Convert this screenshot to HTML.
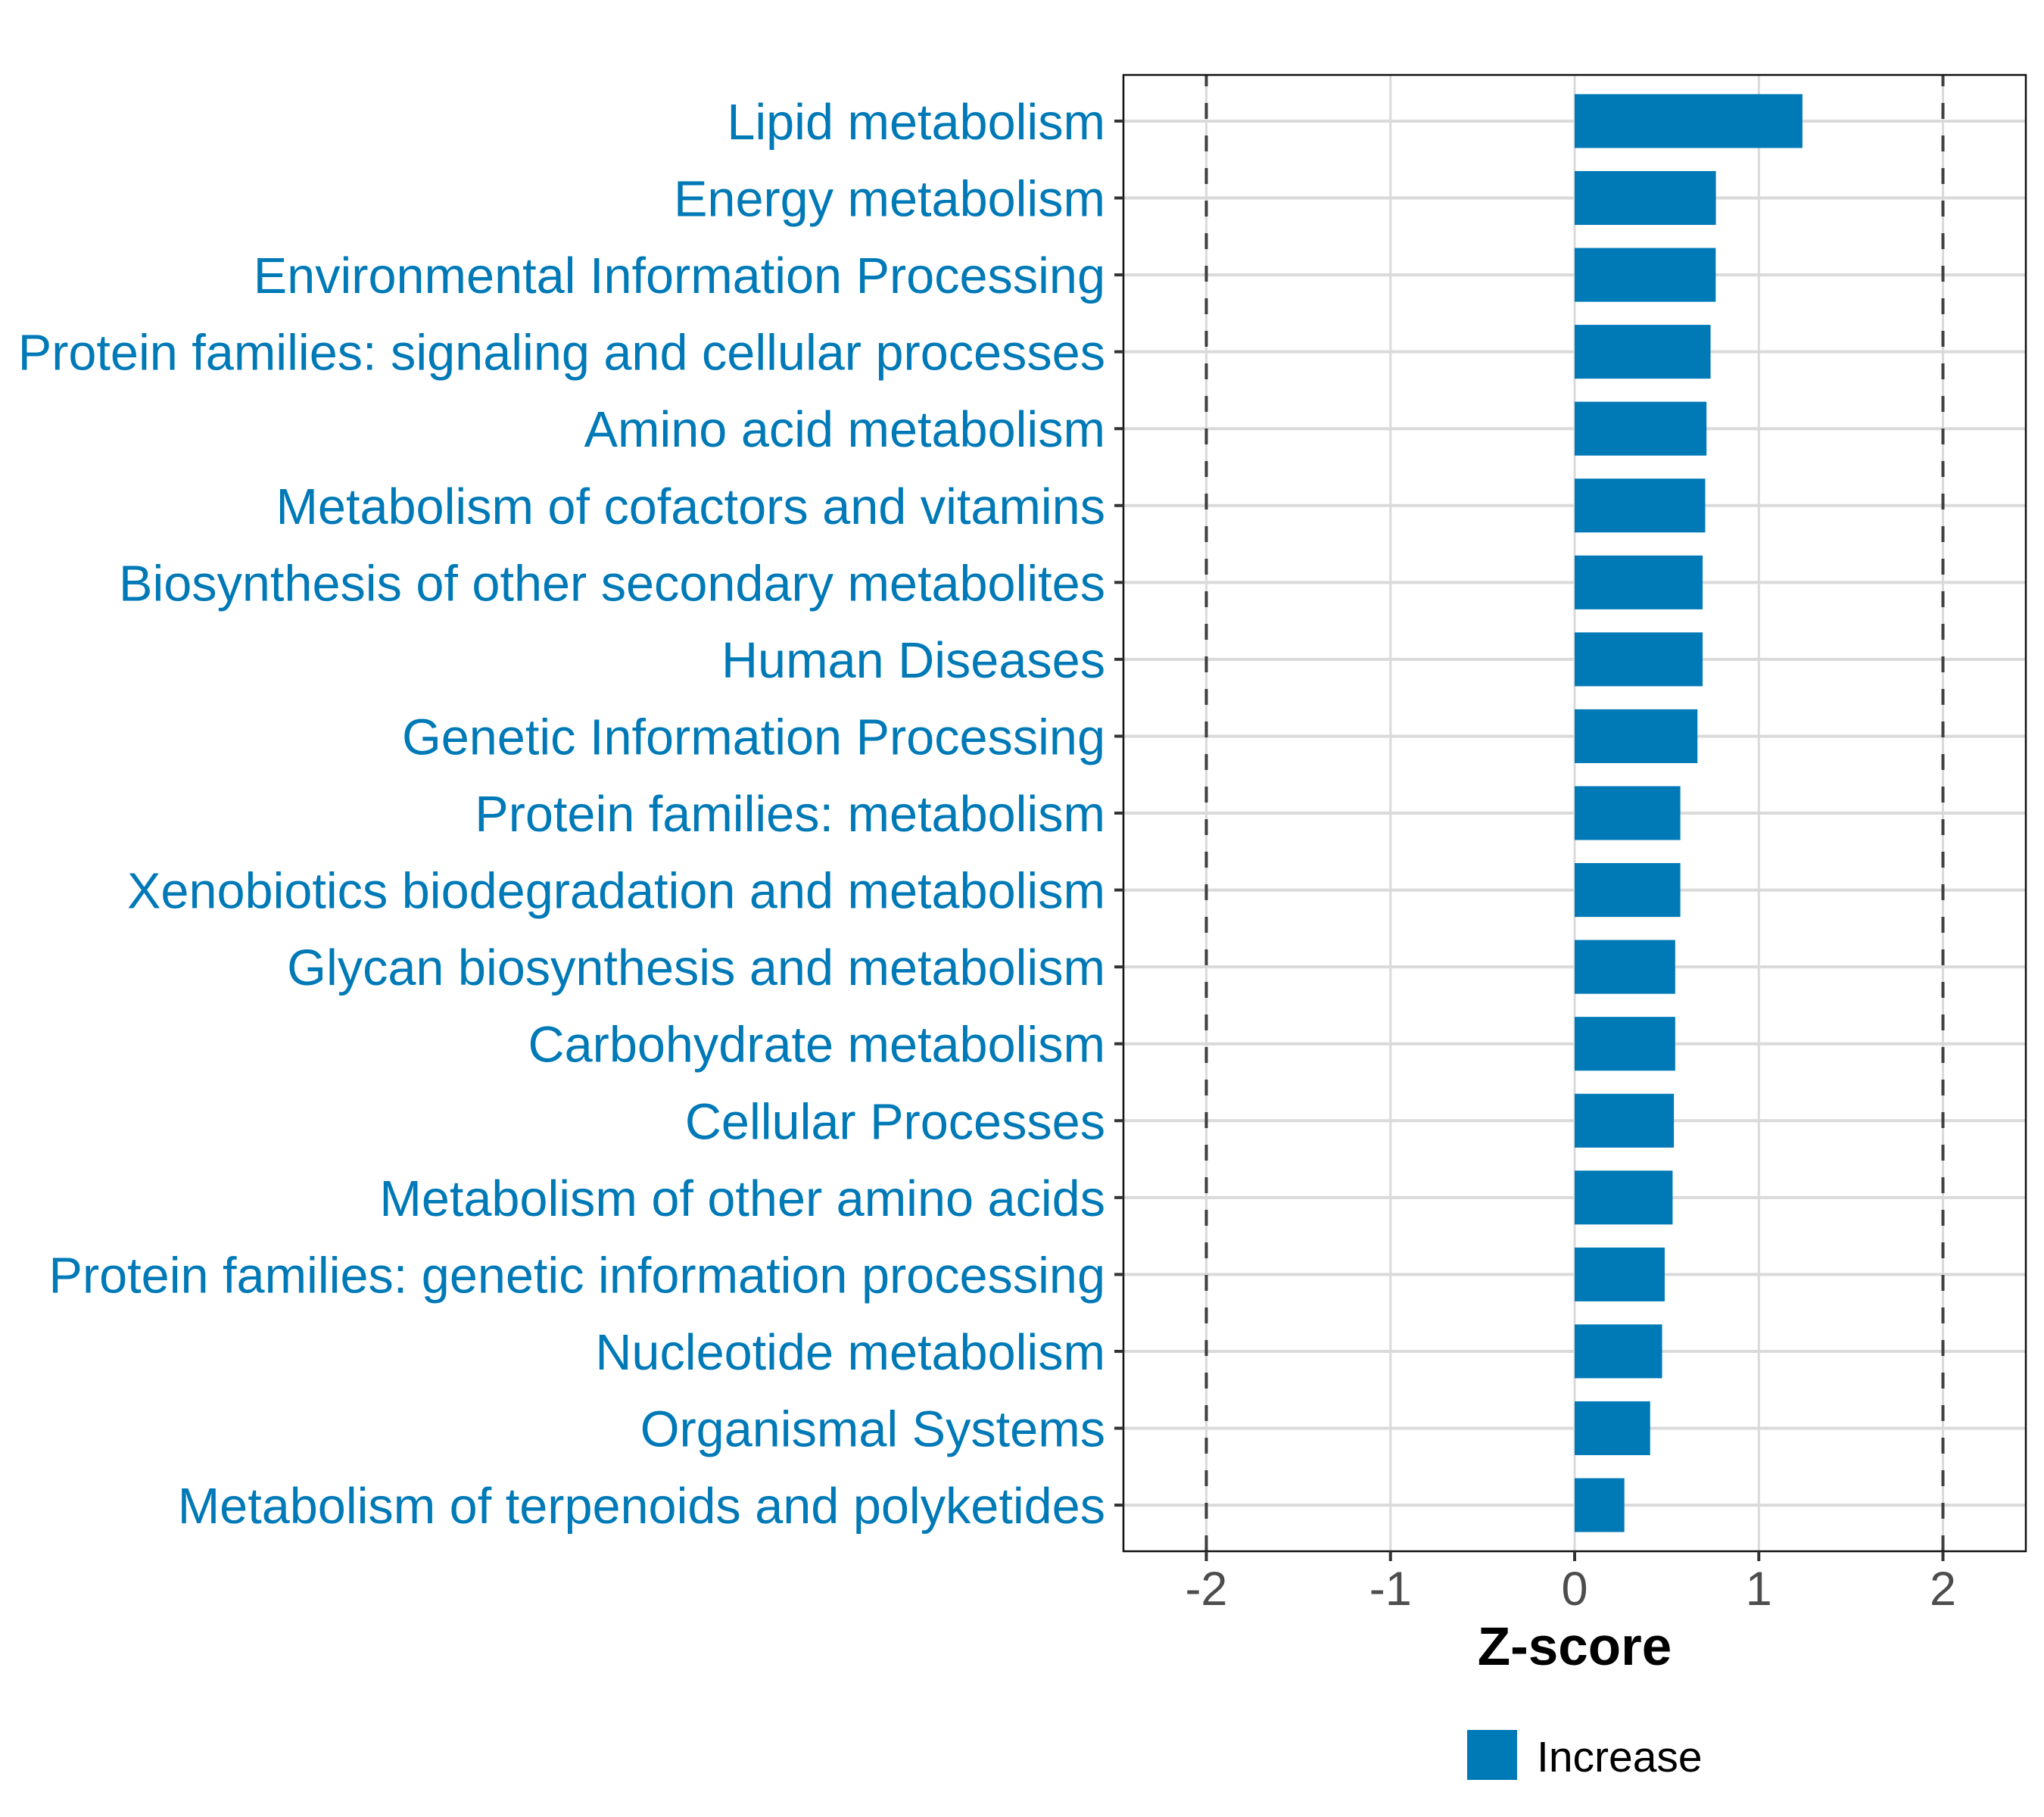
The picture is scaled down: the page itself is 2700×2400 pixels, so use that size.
<!DOCTYPE html>
<html><head><meta charset="utf-8"><style>
html,body{margin:0;padding:0;background:#fff;}
svg{display:block;font-family:"Liberation Sans",Arial,sans-serif;}
</style></head><body>
<svg id="chart" width="2700" height="2400" viewBox="0 0 2700 2400" xmlns="http://www.w3.org/2000/svg">
<rect width="2700" height="2400" fill="#fff"/>
<g id="grid"></g>
<g id="bars"></g>
<g id="refs"></g>
<g id="axes"></g>
</svg>
<script>
const categories = ["Lipid metabolism","Energy metabolism","Environmental Information Processing","Protein families: signaling and cellular processes","Amino acid metabolism","Metabolism of cofactors and vitamins","Biosynthesis of other secondary metabolites","Human Diseases","Genetic Information Processing","Protein families: metabolism","Xenobiotics biodegradation and metabolism","Glycan biosynthesis and metabolism","Carbohydrate metabolism","Cellular Processes","Metabolism of other amino acids","Protein families: genetic information processing","Nucleotide metabolism","Organismal Systems","Metabolism of terpenoids and polyketides"];
const zscores = [1.237,0.767,0.766,0.738,0.716,0.709,0.695,0.695,0.667,0.574,0.574,0.546,0.546,0.539,0.532,0.489,0.475,0.41,0.27];
const xTicks = [-2,-1,0,1,2];
const xTickLabels = ["-2","-1","0","1","2"];
const refLines = [-2,2];

const NS="http://www.w3.org/2000/svg";
const P={l:1484,r:2676,t:99,b:2049};
const xMin=-2.45,xMax=2.45;
const x=v=>P.l+(v-xMin)/(xMax-xMin)*(P.r-P.l);
const n=categories.length;
const step=(P.b-P.t)/(n-1+1.2);
const y=i=>P.t+step*(0.6+i);
function mk(tag,attrs,parent,text){const e=document.createElementNS(NS,tag);for(const k in attrs)e.setAttribute(k,attrs[k]);if(text!==undefined)e.textContent=text;parent.appendChild(e);return e;}
const grid=document.getElementById('grid'),bars=document.getElementById('bars'),refs=document.getElementById('refs'),axes=document.getElementById('axes');

xTicks.forEach((t,i)=>{
  const g=mk('line',{x1:x(t),x2:x(t),y1:P.t,y2:P.b,stroke:'#dadada','stroke-width':3},grid);
  
  
});
categories.forEach((c,i)=>{
  const g=mk('line',{x1:P.l,x2:P.r,y1:y(i),y2:y(i),stroke:'#dadada','stroke-width':4},grid);
  
  
});
zscores.forEach((v,i)=>{
  const x0=x(Math.min(0,v)),x1=x(Math.max(0,v));
  const r=mk('rect',{x:x0,y:y(i)-step*0.35,width:x1-x0,height:step*0.7,fill:'#0079b7'},bars);
  
  
});
refLines.forEach(v=>{
  const l=mk('line',{x1:x(v),x2:x(v),y1:P.b,y2:P.t,stroke:'#404040','stroke-width':4,'stroke-dasharray':'21 22'},refs);
  
  
});
const border=mk('rect',{x:P.l,y:P.t,width:P.r-P.l,height:P.b-P.t,fill:'none',stroke:'#111','stroke-width':2.5},axes);


categories.forEach((c,i)=>{
  const tk=mk('line',{x1:P.l-12,x2:P.l,y1:y(i),y2:y(i),stroke:'#333','stroke-width':4},axes);
  
  
  const t=mk('text',{x:1460,y:y(i)+24,'text-anchor':'end','font-size':66.6,fill:'#0079b7'},axes,c);
  
  
});
xTicks.forEach((v,i)=>{
  const tk=mk('line',{x1:x(v),x2:x(v),y1:P.b,y2:P.b+13,stroke:'#333','stroke-width':4},axes);
  
  
  const t=mk('text',{x:x(v),y:2120,'text-anchor':'middle','font-size':63,fill:'#4d4d4d'},axes,xTickLabels[i]);
  
  
});
const xt=mk('text',{x:x(0),y:2199,'text-anchor':'middle','font-size':71,'font-weight':'bold',fill:'#000'},axes,'Z-score');


const lk=mk('rect',{x:1938,y:2285,width:66,height:66,fill:'#0079b7'},axes);


const lt=mk('text',{x:2030,y:2340,'font-size':57,fill:'#000'},axes,'Increase');


</script>
</body></html>
